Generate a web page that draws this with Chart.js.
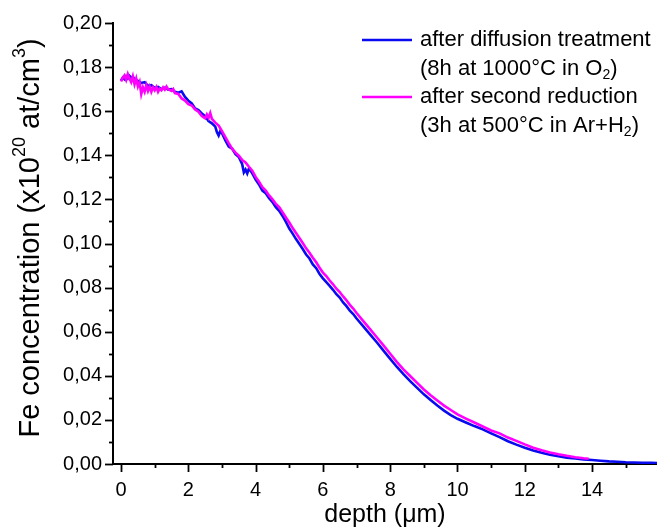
<!DOCTYPE html>
<html><head><meta charset="utf-8">
<script src="https://cdn.jsdelivr.net/npm/chart.js@4/dist/chart.umd.min.js"></script>
<style>html,body{margin:0;padding:0;background:#fff;overflow:hidden}</style>
</head><body>
<canvas id="c" width="657" height="531"></canvas>
<script>
// ---- data ----
const depthBlue = [0.00,0.05,0.10,0.15,0.20,0.25,0.30,0.35,0.40,0.45,0.50,0.60,0.70,0.80,0.90,1.00,1.10,1.20,1.30,1.40,1.50,1.60,1.70,1.80,1.90,2.00,2.10,2.20,2.30,2.40,2.50,2.60,2.70,2.80,2.85,2.90,2.95,3.00,3.10,3.20,3.30,3.40,3.50,3.60,3.65,3.70,3.75,3.80,3.90,4.00,4.10,4.20,4.30,4.40,4.50,4.60,4.70,4.80,4.90,5.00,5.10,5.20,5.30,5.40,5.50,5.60,5.70,5.80,5.90,6.00,6.10,6.20,6.30,6.40,6.50,6.60,6.70,6.80,6.90,7.00,7.20,7.40,7.60,7.80,8.00,8.20,8.40,8.60,8.80,9.00,9.20,9.40,9.60,9.80,10.00,10.25,10.50,10.75,11.00,11.25,11.50,11.75,12.00,12.25,12.50,12.75,13.00,13.25,13.50,13.75,14.00,14.25,14.50,14.75,15.00,15.25,15.50,15.75,16.00];
const feBlue = [0.1740,0.1752,0.1745,0.1758,0.1748,0.1760,0.1752,0.1756,0.1745,0.1742,0.1738,0.1728,0.1732,0.1715,0.1718,0.1705,0.1710,0.1700,0.1707,0.1698,0.1700,0.1688,0.1684,0.1690,0.1665,0.1648,0.1635,0.1612,0.1605,0.1590,0.1578,0.1555,0.1545,0.1530,0.1505,0.1490,0.1510,0.1500,0.1468,0.1440,0.1430,0.1405,0.1392,0.1360,0.1322,0.1335,0.1318,0.1340,0.1318,0.1290,0.1268,0.1240,0.1228,0.1205,0.1188,0.1165,0.1148,0.1125,0.1098,0.1068,0.1045,0.1020,0.0998,0.0975,0.0950,0.0932,0.0905,0.0888,0.0862,0.0842,0.0825,0.0808,0.0790,0.0770,0.0755,0.0733,0.0716,0.0695,0.0680,0.0660,0.0624,0.0588,0.0552,0.0514,0.0477,0.0440,0.0406,0.0375,0.0345,0.0316,0.0290,0.0265,0.0242,0.0222,0.0205,0.0188,0.0172,0.0157,0.0139,0.0122,0.0103,0.0088,0.0074,0.0061,0.0051,0.0042,0.0035,0.0029,0.0025,0.0021,0.0018,0.0015,0.0012,0.0010,0.0008,0.0007,0.0006,0.0005,0.0004];
const depthMagenta = [0.00,0.05,0.10,0.15,0.20,0.25,0.30,0.35,0.40,0.45,0.50,0.55,0.60,0.65,0.70,0.75,0.80,0.85,0.90,0.95,1.00,1.05,1.10,1.15,1.20,1.25,1.30,1.35,1.40,1.50,1.55,1.60,1.70,1.80,1.90,2.00,2.10,2.20,2.30,2.40,2.50,2.55,2.60,2.65,2.70,2.80,2.90,3.00,3.10,3.20,3.30,3.40,3.50,3.60,3.70,3.80,3.90,4.00,4.10,4.20,4.30,4.40,4.50,4.60,4.70,4.80,4.90,5.00,5.10,5.20,5.30,5.40,5.50,5.60,5.70,5.80,5.90,6.00,6.10,6.20,6.30,6.40,6.50,6.60,6.70,6.80,6.90,7.00,7.20,7.40,7.60,7.80,8.00,8.20,8.40,8.60,8.80,9.00,9.20,9.40,9.60,9.80,10.00,10.25,10.50,10.75,11.00,11.25,11.50,11.75,12.00,12.25,12.50,12.75,13.00,13.25,13.50,13.75,13.90];
const feMagenta = [0.1735,0.1752,0.1762,0.1742,0.1768,0.1748,0.1732,0.1758,0.1722,0.1748,0.1712,0.1732,0.1678,0.1708,0.1688,0.1718,0.1692,0.1712,0.1688,0.1708,0.1695,0.1710,0.1688,0.1702,0.1695,0.1708,0.1698,0.1712,0.1700,0.1692,0.1700,0.1682,0.1678,0.1658,0.1648,0.1632,0.1626,0.1608,0.1598,0.1578,0.1568,0.1585,0.1570,0.1592,0.1565,0.1548,0.1535,0.1510,0.1482,0.1455,0.1430,0.1412,0.1398,0.1378,0.1368,0.1348,0.1330,0.1302,0.1280,0.1255,0.1240,0.1218,0.1200,0.1180,0.1165,0.1142,0.1118,0.1095,0.1070,0.1048,0.1025,0.1002,0.0978,0.0958,0.0935,0.0915,0.0890,0.0868,0.0852,0.0832,0.0815,0.0795,0.0780,0.0760,0.0742,0.0722,0.0705,0.0685,0.0648,0.0612,0.0575,0.0538,0.0500,0.0462,0.0428,0.0398,0.0368,0.0338,0.0312,0.0288,0.0265,0.0245,0.0225,0.0206,0.0188,0.0170,0.0152,0.0139,0.0120,0.0105,0.0089,0.0074,0.0062,0.0052,0.0044,0.0037,0.0031,0.0026,0.0024];
const xTickValues = [0,1,2,3,4,5,6,7,8,9,10,11,12,13,14,15];
const yTickValues = [0,0.01,0.02,0.03,0.04,0.05,0.06,0.07,0.08,0.09,0.10,0.11,0.12,0.13,0.14,0.15,0.16,0.17,0.18,0.19,0.20];
const seriesNames = [
  [[{t:'after diffusion treatment'}],[{t:'(8h at 1000°C in O'},{t:'2',sub:true},{t:')'}]],
  [[{t:'after second reduction'}],[{t:'(3h at 500°C in Ar+H'},{t:'2',sub:true},{t:')'}]]
];
const xTitle = [{t:'depth ('},{t:'μ'},{t:'m)'}];
const yTitle = [{t:'Fe concentration (x10'},{t:'20',sup:true},{t:' at/cm'},{t:'3',sup:true},{t:')'}];

const FONT = '"Liberation Sans", Arial, sans-serif';
const TICK_FONT = 20, LEG_FONT = 22, XTITLE_FONT = 25, YTITLE_FONT = 29;

function richWidth(ctx, segs, size){
  let w=0; segs.forEach(s=>{ ctx.font=((s.sup||s.sub)?Math.round(size*0.62):size)+'px '+FONT; w+=ctx.measureText(s.t).width; }); return w;
}
function drawRich(ctx, segs, x, y, size){
  let cx=x;
  segs.forEach(s=>{
    const small = s.sup||s.sub;
    ctx.font=(small?Math.round(size*0.62):size)+'px '+FONT;
    const dy = s.sup ? -size*0.38 : (s.sub ? size*0.28 : 0);
    ctx.fillText(s.t, cx, y+dy);
    cx += ctx.measureText(s.t).width;
  });
}

const decor = {
  id:'decor',
  afterDraw(chart){
    const ctx=chart.ctx, xs=chart.scales.x, ys=chart.scales.y;
    ctx.save();
    ctx.strokeStyle='#000'; ctx.lineWidth=1.8;
    xTickValues.forEach(v=>{
      const px=Math.round(xs.getPixelForValue(v))+0.5;
      const len = v%2===0 ? 8 : 4;
      ctx.beginPath(); ctx.moveTo(px, xs.top); ctx.lineTo(px, xs.top+len); ctx.stroke();
    });
    yTickValues.forEach((v,i)=>{
      const py=Math.round(ys.getPixelForValue(v))+0.5;
      const len = i%2===0 ? 8 : 4;
      ctx.beginPath(); ctx.moveTo(ys.right, py); ctx.lineTo(ys.right-len, py); ctx.stroke();
    });
    ctx.fillStyle='#000'; ctx.textBaseline='middle'; ctx.textAlign='left';
    const cxm=(chart.chartArea.left+chart.chartArea.right)/2;
    const wx=richWidth(ctx,xTitle,XTITLE_FONT);
    drawRich(ctx,xTitle,cxm-wx/2,515,XTITLE_FONT);
    ctx.save(); ctx.translate(31,238); ctx.rotate(-Math.PI/2);
    const wy=richWidth(ctx,yTitle,YTITLE_FONT);
    drawRich(ctx,yTitle,-wy/2,0,YTITLE_FONT);
    ctx.restore();
    const legY=[40,97];
    chart.data.datasets.forEach((ds,i)=>{
      ctx.strokeStyle=ds.borderColor; ctx.lineWidth=2.6;
      ctx.beginPath(); ctx.moveTo(362,legY[i]); ctx.lineTo(412,legY[i]); ctx.stroke();
      ctx.fillStyle='#000';
      drawRich(ctx,seriesNames[i][0],420,legY[i],LEG_FONT);
      drawRich(ctx,seriesNames[i][1],420,legY[i]+29,LEG_FONT);
    });
    ctx.restore();
  }
};

new Chart(document.getElementById('c'),{
  type:'line',
  data:{datasets:[
    {label:'after diffusion treatment', order:1, data:depthBlue.map((d,i)=>({x:d,y:feBlue[i]})), borderColor:'#0a0af0', borderWidth:2.6, pointRadius:0, tension:0},
    {label:'after second reduction', order:0, data:depthMagenta.map((d,i)=>({x:d,y:feMagenta[i]})), borderColor:'#ff00ff', borderWidth:2.6, pointRadius:0, tension:0}
  ]},
  options:{
    responsive:false, animation:false,
    layout:{padding:{top:22,right:0,left:0,bottom:0}},
    plugins:{legend:{display:false},tooltip:{enabled:false}},
    scales:{
      x:{type:'linear',min:-0.24,max:15.93,
        afterBuildTicks:s=>{s.ticks=xTickValues.map(v=>({value:v}));},
        afterFit:s=>{s.height=67;},
        grid:{display:false,drawTicks:false},
        border:{display:true,width:2,color:'#000'},
        ticks:{autoSkip:false,maxRotation:0,padding:14,color:'#000',font:{family:FONT,size:TICK_FONT},
          callback:v=>(v%2===0?String(v):'')}},
      y:{type:'linear',min:0,max:0.20,
        afterBuildTicks:s=>{s.ticks=yTickValues.map(v=>({value:v}));},
        afterFit:s=>{s.width=113;},
        grid:{display:false,drawTicks:false},
        border:{display:true,width:2,color:'#000'},
        ticks:{autoSkip:false,padding:11,color:'#000',font:{family:FONT,size:TICK_FONT},
          callback:(v,i)=>(i%2===0?v.toFixed(2).replace('.',','):'')}}
    }
  },
  plugins:[decor]
});
</script>
</body></html>
